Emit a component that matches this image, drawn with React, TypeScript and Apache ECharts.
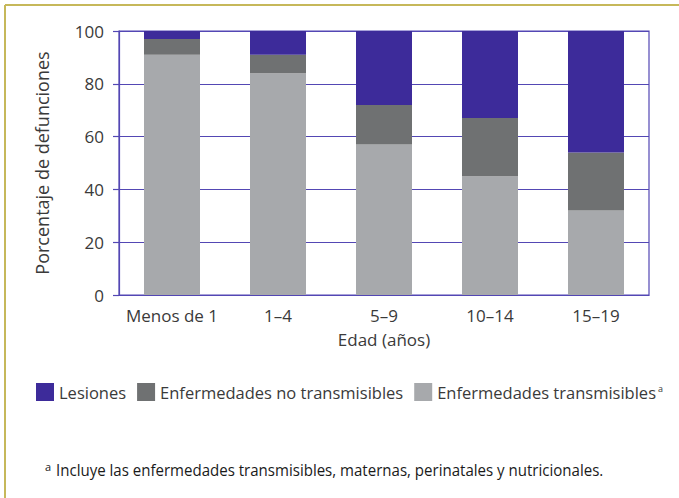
import React, { useEffect, useRef } from "react";
import * as echarts from "echarts";

const categories = ["Menos de 1", "1–4", "5–9", "10–14", "15–19"];
const transmisibles = [91, 84, 57, 45, 32];
const noTransmisibles = [6, 7, 15, 22, 22];
const lesiones = [3, 9, 28, 33, 46];
const yTicks = { min: 0, max: 100, interval: 20 };

const FONT = "'Open Sans', 'Noto Sans', sans-serif";
const TEXT = "#3a3a3a";
const GRIDC = "#5347b4";

export default function App() {
  const ref = useRef<HTMLDivElement>(null);
  useEffect(() => {
    if (!ref.current) return;
    const chart = echarts.init(ref.current, undefined, { renderer: "svg" });
    chart.setOption({
      animation: false,
      backgroundColor: "#ffffff",
      textStyle: { fontFamily: FONT },
      grid: {
        left: 119,
        right: 30,
        top: 31,
        bottom: 203,
        show: true,
        borderColor: GRIDC,
        borderWidth: 1.2,
      },
      legend: {
        data: ["Lesiones", "Enfermedades no transmisibles", "Enfermedades transmisibles"],
        left: 31,
        top: 378,
        width: 660,
        itemWidth: 18,
        itemHeight: 18,
        itemGap: 11,
        icon: "rect",
        textStyle: {
          fontFamily: FONT,
          fontSize: 16.5,
          color: TEXT,
          rich: {
            n: { fontFamily: FONT, fontSize: 16.5, color: TEXT },
            sup: { fontFamily: FONT, fontSize: 9, color: TEXT, verticalAlign: "top", padding: [0, 0, 8, 2] },
          },
        },
        formatter: (name: string) =>
          name === "Enfermedades transmisibles" ? "{n|" + name + "}{sup|a}" : name,
      },
      xAxis: {
        type: "category",
        data: categories,
        name: "Edad (años)",
        nameLocation: "middle",
        nameGap: 36,
        nameTextStyle: { fontFamily: FONT, fontSize: 17, color: TEXT },
        axisLine: { lineStyle: { color: GRIDC, width: 1.2 } },
        axisTick: { show: false },
        axisLabel: { fontFamily: FONT, fontSize: 17, color: TEXT, margin: 12, interval: 0 },
      },
      yAxis: {
        type: "value",
        min: yTicks.min,
        max: yTicks.max,
        interval: yTicks.interval,
        name: "Porcentaje de defunciones",
        nameLocation: "middle",
        nameGap: 68,
        nameTextStyle: { fontFamily: FONT, fontSize: 18, color: TEXT },
        axisLine: { show: true, lineStyle: { color: GRIDC, width: 1.2 } },
        axisTick: { show: true, length: 6, lineStyle: { color: GRIDC, width: 1.2 } },
        axisLabel: { fontFamily: FONT, fontSize: 17, color: TEXT, margin: 15 },
        splitLine: { lineStyle: { color: GRIDC, width: 1.2 } },
      },
      series: [
        {
          name: "Enfermedades transmisibles",
          type: "bar",
          stack: "total",
          data: transmisibles,
          barWidth: 56,
          itemStyle: { color: "#a7a9ac" },
        },
        {
          name: "Enfermedades no transmisibles",
          type: "bar",
          stack: "total",
          data: noTransmisibles,
          barWidth: 56,
          itemStyle: { color: "#6f7172" },
        },
        {
          name: "Lesiones",
          type: "bar",
          stack: "total",
          data: lesiones,
          barWidth: 56,
          itemStyle: { color: "#3d2b9a" },
        },
      ],
      graphic: [
        { type: "line", shape: { x1: 5, y1: 5, x2: 679, y2: 5 }, style: { stroke: "#c6b85a", lineWidth: 2 } },
        { type: "line", shape: { x1: 5, y1: 5, x2: 5, y2: 498 }, style: { stroke: "#c6b85a", lineWidth: 2 } },
        {
          type: "text",
          x: 45,
          y: 461,
          style: { text: "a", fontFamily: FONT, fontSize: 11, fill: "#1a1a1a" },
        },
        {
          type: "text",
          x: 56,
          y: 461,
          scaleX: 0.885,
          style: {
            text: "Incluye las enfermedades transmisibles, maternas, perinatales y nutricionales.",
            fontFamily: FONT,
            fontSize: 17,
            fontWeight: 500,
            fill: "#1a1a1a",
          },
        },
      ],
    });
    return () => chart.dispose();
  }, []);
  return <div ref={ref} style={{ position: "fixed", left: 0, top: 0, width: 679, height: 498 }} />;
}
